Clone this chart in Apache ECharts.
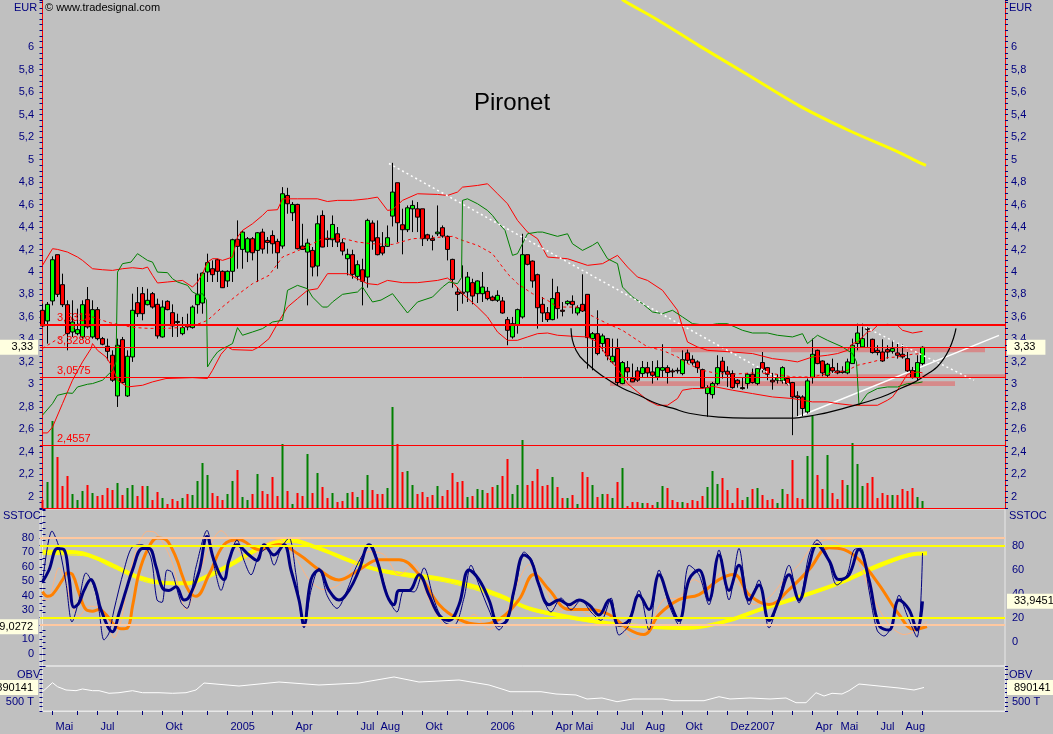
<!DOCTYPE html>
<html><head><meta charset="utf-8">
<script src="https://cdn.jsdelivr.net/npm/echarts/dist/echarts.min.js"></script>
<style>html,body{margin:0;padding:0;background:#c0c0c0}#c{width:1053px;height:734px}</style>
</head><body><div id="c"></div><script>
// ---------------- DATA ----------------
const startDate = '2004-04-19';   // first weekly bar (Monday)
const nSlots = 193;               // weekly slots on the time axis (incl. empty future)
const opens = [3.659,3.564,3.742,4.154,3.887,3.709,3.466,3.451,3.422,3.754,3.422,3.665,3.407,3.339,3.259,2.897,3.398,2.897,3.244,3.727,3.807,3.709,3.807,3.712,3.422,3.739,3.638,3.560,3.451,3.515,3.505,3.709,3.724,4.000,4.029,4.109,4.006,3.920,4.006,4.290,4.201,4.177,4.296,4.192,4.355,4.281,4.325,4.272,4.231,4.681,4.527,4.601,4.231,4.177,4.192,4.053,4.503,4.300,4.287,4.340,4.260,4.118,4.154,3.961,4.020,3.955,4.435,4.305,4.228,4.228,4.497,4.794,4.420,4.376,4.562,4.562,4.562,4.331,4.296,4.340,4.394,4.317,4.112,3.822,3.820,3.822,3.905,3.807,3.807,3.828,3.777,3.748,3.742,3.576,3.422,3.525,3.600,4.154,4.097,3.976,3.712,3.638,3.576,3.816,3.660,3.718,3.739,3.635,3.712,3.801,3.407,3.451,3.363,3.407,3.200,3.318,3.007,3.149,3.052,3.120,3.096,3.149,3.111,3.066,3.125,3.149,3.120,3.125,3.096,3.280,3.223,3.200,3.131,2.918,2.909,3.007,3.206,3.117,3.096,3.037,2.971,3.007,3.090,3.007,3.194,3.149,3.037,3.037,3.031,3.052,3.016,2.897,2.888,2.755,3.060,3.303,3.208,3.081,3.149,3.120,3.117,3.102,3.185,3.363,3.333,3.495,3.401,3.303,3.288,3.309,3.294,3.280,3.268,3.229,3.125,3.060,3.185];
const closes = [3.520,3.712,4.109,3.801,3.709,3.451,3.555,3.487,3.709,3.511,3.665,3.407,3.357,3.294,3.037,3.348,3.016,3.250,3.659,3.629,3.629,3.748,3.688,3.431,3.688,3.665,3.520,3.550,3.505,3.511,3.688,3.798,3.991,4.083,3.976,4.006,3.860,4.006,4.287,4.228,4.355,4.296,4.171,4.349,4.204,4.263,4.251,4.171,4.696,4.607,4.601,4.207,4.201,4.257,4.044,4.429,4.222,4.290,4.423,4.266,4.186,4.157,3.979,4.065,3.917,4.459,4.275,4.154,4.168,4.305,4.711,4.438,4.376,4.571,4.592,4.488,4.296,4.296,4.281,4.355,4.320,4.201,3.934,3.801,3.810,3.955,3.786,3.920,3.866,3.763,3.748,3.792,3.635,3.481,3.540,3.665,4.154,4.068,3.920,3.682,3.635,3.576,3.763,3.674,3.650,3.739,3.709,3.682,3.653,3.416,3.451,3.274,3.431,3.253,3.250,3.016,3.194,3.111,3.022,3.037,3.149,3.102,3.081,3.149,3.149,3.105,3.111,3.120,3.220,3.214,3.191,3.149,2.971,2.971,3.007,3.149,3.111,3.090,2.971,3.007,2.962,3.090,3.016,3.140,3.134,3.090,3.022,3.058,3.149,3.007,2.888,2.882,2.785,3.031,3.268,3.185,3.102,3.179,3.120,3.102,3.105,3.200,3.348,3.457,3.407,3.490,3.283,3.283,3.208,3.288,3.318,3.259,3.244,3.120,3.060,3.194,3.330];
const lows = [3.511,3.362,3.703,3.777,3.688,3.303,3.422,3.437,3.407,3.496,3.407,3.392,3.348,3.214,3.022,2.799,3.007,2.888,3.200,3.600,3.570,3.703,3.674,3.407,3.416,3.659,3.422,3.422,3.437,3.481,3.496,3.629,3.629,3.911,3.911,3.911,3.857,3.866,3.911,4.029,4.029,4.088,4.103,3.911,4.163,4.163,4.163,4.029,4.207,4.518,4.453,4.201,4.200,3.703,3.961,3.961,4.220,4.222,4.222,4.222,4.148,3.970,3.940,3.925,3.703,3.860,4.198,4.148,4.148,4.222,4.405,4.266,4.157,4.355,4.355,4.355,4.231,4.275,4.192,4.320,4.305,4.103,3.860,3.653,3.718,3.733,3.712,3.724,3.733,3.748,3.740,3.733,3.629,3.348,3.407,3.451,3.585,4.059,3.860,3.496,3.555,3.555,3.570,3.585,3.605,3.703,3.629,3.614,3.644,3.140,3.125,3.259,3.294,3.214,3.185,2.992,3.001,3.037,3.020,3.022,3.066,3.066,3.007,3.037,3.066,3.007,3.066,3.096,3.081,3.185,3.170,3.102,2.962,2.711,2.874,2.992,3.052,2.977,2.962,2.971,2.953,2.962,3.007,2.992,3.105,3.037,2.953,3.007,3.007,2.992,2.548,2.717,2.717,2.740,3.007,3.179,3.072,3.066,3.102,3.090,3.096,3.090,3.185,3.303,3.327,3.333,3.274,3.259,3.200,3.229,3.274,3.229,3.229,3.111,3.052,3.037,3.170];
const highs = [3.718,3.733,4.139,4.154,3.985,3.748,3.748,3.674,3.748,3.866,3.748,3.688,3.422,3.407,3.303,3.407,3.422,3.303,3.807,3.866,3.866,3.851,3.822,3.763,3.748,3.748,3.712,3.629,3.600,3.629,3.703,3.985,4.000,4.163,4.103,4.118,4.014,4.014,4.296,4.459,4.370,4.311,4.311,4.355,4.385,4.311,4.370,4.296,4.755,4.749,4.622,4.607,4.429,4.296,4.222,4.503,4.548,4.370,4.503,4.400,4.296,4.207,4.198,4.103,4.118,4.474,4.459,4.459,4.355,4.414,4.971,4.794,4.563,4.592,4.637,4.622,4.562,4.340,4.325,4.592,4.414,4.325,4.118,3.866,4.059,4.000,3.940,3.925,4.000,3.866,3.790,3.837,3.777,3.600,3.600,3.674,4.340,4.154,4.103,3.985,3.777,3.688,3.940,3.872,3.733,3.748,3.792,3.703,3.979,3.801,3.466,3.659,3.451,3.413,3.407,3.407,3.208,3.208,3.185,3.155,3.208,3.200,3.208,3.214,3.357,3.170,3.140,3.149,3.303,3.309,3.259,3.214,3.140,2.992,3.022,3.259,3.244,3.161,3.125,3.046,3.066,3.102,3.140,3.149,3.288,3.155,3.102,3.090,3.161,3.066,3.022,2.939,2.903,3.052,3.407,3.309,3.214,3.191,3.229,3.191,3.161,3.229,3.407,3.540,3.540,3.510,3.407,3.348,3.401,3.348,3.392,3.377,3.357,3.288,3.155,3.259,3.339];
const volumes = [8,26,87,51,22,32,14,8,17,23,15,12,13,20,18,25,13,20,23,12,22,22,8,16,10,4,9,7,10,14,13,27,45,33,15,12,8,14,27,38,11,8,14,34,17,14,31,12,64,17,4,15,12,54,15,35,21,10,15,6,7,15,16,11,18,33,18,14,14,20,101,64,36,37,23,14,16,11,13,22,12,18,35,26,27,11,12,19,18,15,21,23,32,49,14,23,68,23,27,39,22,23,31,21,10,10,13,4,36,31,23,11,14,14,10,26,40,2,6,6,5,5,3,6,22,20,8,6,6,5,8,7,12,21,37,24,30,18,5,20,8,11,19,20,13,8,9,5,19,14,48,10,9,52,92,33,19,53,15,9,28,23,65,44,22,25,31,10,15,13,13,13,19,17,20,11,7];

// overlay indicators: [week index, price]
const bbUpper = [[0,4.059],[2,4.207],[3,4.201],[5,4.177],[7,4.133],[8,4.103],[10,4.029],[12,4.02],[14,4.014],[16,4.029],[18,4.038],[20,4.029],[21,4.044],[22,3.97],[23,3.902],[25,3.911],[27,3.92],[28,3.925],[30,3.866],[31,3.911],[32,3.985],[33,4.088],[34,4.118],[35,4.118],[36,4.103],[38,4.133],[39,4.311],[40,4.37],[42,4.429],[44,4.503],[45,4.548],[47,4.554],[48,4.651],[51,4.651],[55,4.651],[57,4.627],[59,4.637],[62,4.637],[65,4.651],[67,4.666],[69,4.548],[70,4.554],[72,4.637],[75,4.696],[79,4.69],[81,4.681],[83,4.711],[84,4.755],[87,4.77],[89,4.785],[91,4.696],[93,4.607],[95,4.459],[97,4.355],[99,4.296],[101,4.133],[105,4.118],[109,4.059],[112,4.074],[115,4.148],[117,4.044],[119,3.955],[121,3.925],[124,3.837],[127,3.659],[128,3.511],[129,3.377],[131,3.333],[133,3.303],[138,3.288],[142,3.274],[146,3.229],[149,3.214],[151,3.2],[154,3.244],[157,3.259],[159,3.274],[161,3.303],[162,3.363],[163,3.377],[165,3.466],[166,3.481],[167,3.525],[169,3.534],[171,3.525],[172,3.481],[174,3.457],[176,3.472]];
const bbLower = [[0,2.568],[1,2.568],[2,2.62],[4,2.829],[6,3.037],[8,3.2],[9.7,3.318],[10,3.363],[11,3.303],[12.7,3.244],[14,3.155],[15,3.037],[17,2.977],[20,2.992],[22,3.022],[24.7,3.052],[30,3.06],[33,3.052],[34,3.125],[35.7,3.268],[37,3.333],[38,3.309],[42,3.303],[43.3,3.333],[45.3,3.407],[47,3.54],[49,3.688],[51,3.763],[53,3.837],[55,3.851],[57,3.985],[61,3.985],[63,3.94],[65,3.896],[67,3.887],[69,3.925],[72,3.905],[75,3.905],[79,3.925],[81,3.946],[82,3.911],[84,3.807],[87,3.688],[89,3.6],[91,3.466],[93,3.392],[95,3.392],[97,3.422],[99,3.451],[101,3.457],[103,3.437],[106,3.428],[109,3.422],[111,3.377],[113,3.244],[115,3.14],[117,3.007],[119,2.933],[121,2.859],[123,2.814],[125,2.814],[127,2.874],[128,2.948],[130,2.963],[132,2.963],[134,2.983],[138,2.948],[142,2.918],[146,2.888],[150,2.874],[154,2.844],[157,2.844],[159,2.829],[162,2.814],[167,2.814],[169,2.859],[170,2.888],[171,2.948],[172,3.022],[173,3.09],[175,3.111],[176,3.102]];
const bbMid = [[0,3.32],[4.7,3.45],[9.3,3.61],[13.3,3.55],[18,3.507],[21.3,3.498],[24.7,3.498],[28,3.507],[31.3,3.54],[33,3.57],[36,3.69],[39.3,3.807],[42,3.896],[45.3,3.97],[48,4.133],[52,4.207],[56,4.296],[60,4.3],[63,4.266],[66,4.251],[70,4.245],[74,4.296],[78,4.305],[82,4.317],[84,4.281],[87,4.237],[90,4.163],[91,4.103],[93,3.985],[95,3.896],[98,3.807],[101,3.748],[103,3.688],[107,3.688],[109,3.629],[113,3.54],[116,3.481],[119,3.392],[121,3.333],[124,3.303],[127,3.244],[129,3.185],[132,3.125],[135,3.096],[138,3.09],[142,3.102],[146,3.096],[150,3.066],[154,3.066],[157,3.096],[161,3.125],[163,3.17],[166,3.2],[169,3.238],[171,3.244],[174,3.268],[176,3.274]];
const greenStop = [[0,2.726],[2,2.829],[3,2.903],[5,2.924],[6,2.92],[7,2.977],[9,3.001],[10,3.007],[12,3.037],[14,3.125],[14.7,3.2],[15,3.999],[16,4.074],[17.7,4.088],[19,4.163],[20,4.133],[21,4.103],[22,4.088],[23,3.999],[25,3.994],[26,3.94],[27,3.911],[29,3.881],[30,3.822],[31,3.801],[32,3.807],[32.8,3.75],[33,3.155],[34,3.229],[35,3.288],[36,3.318],[37,3.339],[38,3.363],[39,3.505],[40,3.437],[42,3.466],[44,3.496],[46,3.555],[48,3.57],[48.7,3.75],[49,3.837],[51,3.881],[53,3.851],[54,3.777],[56,3.688],[57,3.688],[58,3.733],[60,3.801],[63,3.822],[64,3.866],[66,3.733],[67.7,3.75],[70,3.807],[73,3.635],[75,3.733],[78,3.777],[80,3.866],[81.3,3.911],[83,3.896],[83.8,3.95],[84,4.637],[85,4.651],[87,4.607],[89,4.548],[90,4.503],[91,4.444],[92.5,4.37],[94,4.148],[95,4.163],[97,4.34],[99,4.355],[100,4.355],[103,4.317],[105,4.34],[106,4.251],[108,4.192],[110,4.237],[111,4.266],[113,4.118],[115,4.074],[116,3.866],[118,3.777],[120,3.718],[122,3.644],[124,3.629],[126,3.659],[128,3.6],[130,3.54],[133,3.525],[135,3.54],[137,3.54],[140,3.481],[142,3.457],[145,3.457],[147,3.437],[150,3.422],[152,3.451],[153,3.363],[155,3.437],[157,3.392],[160,3.333],[161,3.303],[162,3.274],[162.8,3.2],[163.3,2.814],[165,2.918],[167,2.963],[169,2.977],[171,2.977],[173,3.007],[175,3.013],[176,3.022]];
const longMA = [[115.5,6.45],[116.3,6.414],[123.3,6.236],[131.3,6.014],[141.3,5.748],[151.3,5.48],[161.3,5.259],[171.3,5.064],[175.3,4.975],[176.7,4.948]];
const levels = [3.5313, 3.3288, 3.0575, 2.4557];
const lastPrice = 3.33;
// drawing objects
const bowl = [[105.7,3.499],[106.7,3.303],[109.3,3.17],[112.7,3.054],[116,2.965],[119.3,2.903],[122.7,2.832],[126,2.788],[129.3,2.743],[135.3,2.708],[141,2.699],[147.7,2.699],[154.3,2.725],[160.9,2.796],[167.7,2.885],[171.7,2.965],[175.7,3.054],[180.3,3.232],[182.7,3.499]];
const trendDownA = [[69.3,4.965],[149.3,3.0]];
const trendDownB = [[163.7,3.526],[186.3,3.037]];
const trendUp = [[150.9,2.707],[191.3,3.436]];
const zoneStart = [125.7, 113.5, 154];
const zoneEnd = [188.5, 182.5, 192.5];
const zoneTop = [3.327, 3.028, 3.09];
const zoneBottom = [3.285, 2.986, 3.061];

// SSTOC panel: [week index, value]
const stochSlow = [[0,50],[1.3,60],[3,78],[4.3,77],[5.3,54],[6.3,29],[7.3,32.5],[8.3,43],[9.7,52],[10.7,43],[11.7,27],[14,8.6],[15.3,24],[16.7,43],[18,60],[20,78],[21.3,78],[22.7,63],[24,45],[25.3,43],[26.7,46],[28.3,35],[29.3,37.5],[31.3,58.6],[32.9,88],[34.3,68],[36.3,52],[37.3,68],[38.9,81],[41.3,72.5],[42.9,68],[44.3,81],[46.3,72.5],[48.3,81],[49.7,60],[51.3,35],[52.3,14],[53.7,52],[55.3,60],[57.3,43],[59.3,35],[61.3,43],[63.3,60],[65.3,81],[66.9,68],[68.9,39],[70.3,31],[71.3,43],[73.3,43],[75.3,56],[77.3,39],[79.3,22.5],[81.3,18],[83.3,31],[85.3,60],[87.3,52],[89.3,35],[91.3,14],[92.9,18],[94.3,43],[96.3,72.5],[97.7,68],[99.3,47.5],[101.3,31],[103.3,35],[105.3,31],[107.3,35],[109.3,31],[111.3,22.5],[113.3,35],[115.3,14],[117.3,18],[119.3,39],[121.3,27],[123.3,56],[125.3,35],[127.3,18],[129.3,52],[131.3,60],[133.3,35],[135.3,72.5],[137.3,43],[139.3,64],[141.3,35],[143.3,47.5],[145.3,18],[147.3,35],[149.3,56],[151.3,35],[153.3,64],[154.9,81],[157.3,68],[159.3,52],[161.3,56],[163.3,77],[165.3,52],[167.3,14],[169.3,10],[171.3,35],[173.3,27],[174.9,10],[176,33.9]];
const stochFast = [[0,49],[1.9,92.5],[3.3,79],[4.7,49],[5.9,16.7],[7.3,35],[8.7,57.5],[10.3,46],[11.3,26.7],[12.3,1.7],[13.3,7.5],[14.3,26.7],[16.3,60],[17.9,79],[19.9,81],[21.7,70],[22.9,35],[23.9,33],[24.9,60],[25.9,58],[27.7,33],[28.9,28],[30.7,62.5],[32.9,93],[34.3,64],[35.7,43],[37.3,68],[38.9,85],[40.3,68],[41.7,56],[43.3,72.5],[44.9,78],[46.3,64],[47.7,78],[49.3,86.7],[50.7,56],[52.3,11.7],[53.7,43],[55.3,61.7],[56.9,39],[58.9,28],[60.9,43],[62.9,64],[65.7,81],[67.3,64],[69.3,35],[70.9,25],[72.3,43],[74.3,41.7],[76.3,61.7],[78.3,35],[80.3,16.7],[82.3,14],[84.3,36.7],[85.7,64],[87.3,47.5],[89.3,26.7],[91.3,10],[93.3,25],[94.9,51.7],[96.3,75],[97.9,68],[99.7,41.7],[101.7,25],[103.7,36.7],[105.7,26.7],[107.7,35],[109.7,25],[111.7,18],[113.7,36.7],[115.3,5.8],[117.3,14],[119.3,43],[121.3,10],[123.3,60],[125.3,31],[127.3,14],[129.3,64],[131.3,56],[133.3,31],[135.3,76.7],[137.3,35],[139.3,78],[141.3,31],[143.3,51.7],[145.3,11.7],[147.3,36.7],[149.3,64],[151.3,32.5],[153.3,72.5],[154.9,85],[156.9,72.5],[158.9,47.5],[160.9,56],[162.3,76.7],[163.7,78],[165.3,43],[166.9,10],[168.3,5],[169.9,14],[171.3,39],[172.9,22.5],[174.9,4],[176,74]];
const stochTrend = [[0,75.3],[4.7,75.3],[8,74],[11.3,69],[14,64],[16.7,58.6],[19.3,54],[22.7,50.3],[26,49],[29.3,49],[31.3,51.7],[37.3,64],[43.3,78],[49.3,85],[55.3,78],[61.3,68],[67.3,60],[73.3,56],[79.3,53],[85.3,47.5],[91.3,39],[97.3,28],[103.3,22.5],[111.3,16.7],[119.3,13.3],[127.3,11.7],[131.3,12.5],[137.3,18],[143.3,26.7],[151.3,37.5],[159.3,49],[167.3,64],[173.3,72.5],[176.9,74]];
const stochTrend2 = [[0,73],[8,72],[14,62],[19.3,52],[22.7,48.5],[26,48],[31.3,50.5],[37.3,62],[43.3,76],[49.3,83],[55.3,77],[61.3,67],[67.3,59],[73.3,54],[79.3,51],[85.3,45],[91.3,37],[97.3,27],[103.3,21],[111.3,15.5],[119.3,12.3],[127.3,11],[131.3,12],[137.3,17.5],[143.3,26],[151.3,36.5],[159.3,48],[167.3,62],[173.3,71.5],[176.9,73.5]];
const stoch2 = [[0,43],[1,39.7],[2,41],[4,51],[5,56],[6,54.7],[7.3,42],[8.7,30.5],[10,29.4],[11.3,30.5],[12.7,27],[14.3,20.2],[15.7,17.2],[17,17.9],[18,32.8],[19.3,55.8],[21,71.9],[23,80],[24.7,78.8],[26,71.9],[27,63.9],[28,53.5],[29.3,43.2],[30.7,39.7],[33.3,54.7],[36.3,75.4],[39.3,78.8],[43.3,71.9],[47.3,75.4],[51.3,68.5],[55.3,58],[59.3,51],[63.3,58],[67.3,65],[71.3,65],[75.3,54.7],[79.3,34],[83.3,23.7],[87.3,20.2],[91.3,23.7],[95.3,37.4],[98.3,54.7],[101.3,44.3],[105.3,30.6],[109.3,30.6],[113.3,27.1],[117.3,16.8],[120.3,13.3],[123.3,27.1],[127.3,37.4],[131.3,40.9],[135.3,51.2],[138.3,54.7],[141.3,40.9],[145.3,34],[149.3,44.3],[153.3,58.1],[157.3,73.3],[160.3,71.9],[163.3,65],[167.3,47.8],[171.3,27.1],[174.3,16.8],[176.9,18.8]];
const stoch2Fast = [[0,37.4],[1,37.4],[3.3,59.3],[4.7,49],[5.7,35],[7.3,26],[9.3,32.8],[11.3,32.4],[13.3,19],[14.3,11],[15.7,22.5],[17.3,53.5],[19.3,76.6],[21,84.6],[22.7,83.4],[25,70.8],[26.3,59.3],[27.7,38.6],[28.7,30.5],[30,39.7],[31.3,54.7],[33.3,73.3],[35.7,85],[38.3,75.4],[41.3,65],[44.3,75.4],[47.3,78.8],[50.3,68.5],[53.3,51.2],[56.3,44.3],[59.3,47.8],[62.3,61.6],[65.3,70.6],[68.3,68.5],[71.3,54.7],[74.3,61.6],[77.3,37.4],[80.3,20.2],[83.3,18.1],[86.3,27.1],[89.3,16.8],[92.3,25],[95.3,51.2],[97.3,61.6],[100.3,47.8],[103.3,29.2],[106.3,34],[109.3,27.1],[112.3,29.2],[115.3,20.2],[118.3,9.9],[121.3,18.1],[124.3,37.4],[127.3,38.8],[130.3,51.2],[133.3,45.7],[136.3,58.1],[139.3,47.8],[142.3,34],[145.3,38.8],[148.3,51.2],[151.3,61.6],[154.3,75.4],[157.3,78.8],[160.3,73.3],[163.3,61.6],[166.3,37.4],[169.3,20.2],[172.3,13.3],[175.3,16.8],[176.9,22.3]];
const stochBands = [80, 20];
const stochLast = 33.9451;
const stoch2Last = 29.0272;
const stoch2TagLevel = 18.6;

// OBV panel: [week index, OBV]
const obv = [[0,775000],[2,1020000],[3,911000],[4.7,822000],[6.7,803000],[8,849000],[10,803000],[11.3,803000],[13.3,732000],[15.3,748000],[18,803000],[20,748000],[23.3,748000],[26,732000],[28.7,748000],[30.7,822000],[32.3,1012000],[39.3,930000],[47.3,1039000],[55.3,958000],[63.3,1012000],[70.3,1176000],[75.3,1039000],[83.3,1094000],[89.3,958000],[92.5,822000],[93.5,775000],[99.7,775000],[102.7,713000],[106.7,686000],[108.9,577000],[111.9,604000],[114.9,503000],[118.1,577000],[124.1,577000],[126.1,530000],[132.3,530000],[135.3,639000],[137.5,577000],[141.5,604000],[145.5,577000],[148.7,604000],[150.7,476000],[152.7,476000],[154.7,748000],[156.3,658000],[157.9,732000],[159.9,713000],[161.3,803000],[163.3,985000],[167.3,930000],[171.3,876000],[174.3,822000],[176.3,890141]];
const obvLast = 890141;

// x-axis month labels
const labelMonths = ['2004-05','2004-07','2004-10','2005-01','2005-04','2005-07','2005-08','2005-10','2006-01','2006-04','2006-05','2006-07','2006-08','2006-10','2006-12','2007-01','2007-04','2007-05','2007-07','2007-08'];
const labelTexts  = ['Mai','Jul','Okt','2005','Apr','Jul','Aug','Okt','2006','Apr','Mai','Jul','Aug','Okt','Dez','2007','Apr','Mai','Jul','Aug'];

// ---------------- BUILD ----------------
const FONT = "'Liberation Sans',Arial,sans-serif";
const NAVY = '#00007f';
const RED = '#ff0000';
const GREEN = '#008000';
const LIME = '#00ff00';
const NOLINE = { color: 'rgba(0,0,0,0)', width: 1 };

const dates = [];
{
  const t0 = Date.parse(startDate + 'T00:00:00Z');
  for (let i = 0; i < nSlots; i++) dates.push(new Date(t0 + i * 7 * 86400000).toISOString().slice(0, 10));
}
const nBars = closes.length;
const isMonthStart = (d, i) => i < nBars && +d.slice(8, 10) <= 7;
const labelFor = (d) => { const idx = labelMonths.indexOf(d.slice(0, 7)); return (+d.slice(8, 10) <= 7 && idx >= 0) ? labelTexts[idx] : ''; };
const comma = (v, d) => v.toFixed(d).replace('.', ',');

const candleData = opens.map((o, i) => [o, closes[i], lows[i], highs[i]]);
const volData = volumes.map((v, i) => ({ value: v, itemStyle: { color: closes[i] >= opens[i] ? GREEN : RED } }));

const txt = (text, left, top, size, color) => ({ text, left, top, padding: 0, textStyle: { fontFamily: FONT, fontSize: size, fontWeight: 'normal', color } });
const tag = (pos, text) => ({ show: true, position: pos, formatter: text, backgroundColor: '#ffffe0', color: '#000', fontFamily: FONT, fontSize: 11, padding: pos === 'start' ? [2, 5, 2, 16] : [2, 10, 2, 7], distance: 2 });
const hidden = { show: false };
const ovX = (gi) => ({ type: 'value', gridIndex: gi, min: -0.5, max: nSlots - 0.5, show: false });
const axLab = (fmt, margin) => ({ color: NAVY, fontFamily: FONT, fontSize: 11, margin, formatter: fmt });
const line = (name, xi, yi, data, color, width, extra) => Object.assign({ type: 'line', name, xAxisIndex: xi, yAxisIndex: yi, data, symbol: 'none', silent: true, lineStyle: { color, width } }, extra || {});

const priceFmt = (v) => { const t = Math.round(v * 100); return (t % 20 === 0 && t >= 200 && t <= 600) ? String(t / 100).replace('.', ',') : ''; };
const priceAxis = (pos) => ({
  type: 'value', gridIndex: 0, position: pos, min: 1.9, max: 6.42, interval: 0.05,
  axisLine: { show: true, lineStyle: { color: RED, width: 1 } },
  axisTick: { show: true, length: 3, lineStyle: { color: NAVY } },
  axisLabel: axLab(priceFmt, 6), splitLine: hidden
});

const option = {
  backgroundColor: '#c0c0c0',
  animation: false,
  title: [
    txt('Pironet', 474, 91, 24, '#000'),
    txt('© www.tradesignal.com', 45, 2, 11, '#000'),
    txt('EUR', 14, 2, 11, NAVY), txt('EUR', 1009, 2, 11, NAVY),
    txt('SSTOC', 3, 510, 11, NAVY), txt('SSTOC', 1009, 510, 11, NAVY),
    txt('OBV', 17, 669, 11, NAVY), txt('OBV', 1009, 669, 11, NAVY)
  ],
  grid: [
    { left: 40, width: 965, top: 0, height: 508 },
    { left: 40, width: 965, top: 509, height: 157, show: true, backgroundColor: 'transparent', borderColor: '#e8e8e8', borderWidth: 1 },
    { left: 40, width: 965, top: 509, height: 152 },
    { left: 40, width: 965, top: 666, height: 45, show: true, backgroundColor: 'transparent', borderColor: '#e8e8e8', borderWidth: 1 }
  ],
  xAxis: [
    { type: 'category', gridIndex: 0, data: dates, boundaryGap: true,
      axisLine: { show: true, onZero: false, lineStyle: { color: RED } }, axisTick: hidden, axisLabel: hidden, splitLine: hidden },
    ovX(0), ovX(1), ovX(2),
    { type: 'category', gridIndex: 3, data: dates, boundaryGap: true,
      axisLine: { show: true, onZero: false, lineStyle: { color: '#e8e8e8' } },
      axisTick: { show: true, alignWithLabel: true, length: 4, interval: (i, d) => isMonthStart(d, i), lineStyle: { color: NAVY } },
      axisLabel: { show: true, interval: (i, d) => labelFor(d) !== '', formatter: (d) => labelFor(d), color: NAVY, fontFamily: FONT, fontSize: 11, margin: 10, align: 'left', padding: [0, 0, 0, 3] },
      splitLine: hidden },
    ovX(3)
  ],
  yAxis: [
    priceAxis('left'), priceAxis('right'),
    { type: 'value', gridIndex: 0, min: 0, max: 508, show: false },
    { type: 'value', gridIndex: 1, position: 'right', min: -20, max: 110.83, interval: 5,
      axisLine: { show: true, lineStyle: { color: '#e8e8e8' } }, axisTick: { show: true, length: 3, lineStyle: { color: NAVY } },
      axisLabel: axLab((v) => { const r = Math.round(v); return (r % 20 === 0 && r >= 0 && r <= 80) ? String(r) : ''; }, 7), splitLine: hidden },
    { type: 'value', gridIndex: 2, position: 'left', min: -5, max: 100, interval: 5,
      axisLine: { show: false }, axisTick: { show: true, length: 3, lineStyle: { color: NAVY } },
      axisLabel: axLab((v) => { const r = Math.round(v); return (r % 10 === 0 && r >= 0 && r <= 80) ? String(r) : ''; }, 6), splitLine: hidden },
    { type: 'value', gridIndex: 3, position: 'left', min: 250000, max: 1475000, interval: 125000,
      axisLine: { show: true, lineStyle: { color: '#e8e8e8' } }, axisTick: { show: true, length: 3, lineStyle: { color: NAVY } },
      axisLabel: axLab((v) => v === 500000 ? '500 T' : '', 6), splitLine: hidden },
    { type: 'value', gridIndex: 3, position: 'right', min: 250000, max: 1475000, interval: 125000,
      axisLine: { show: true, lineStyle: { color: '#e8e8e8' } }, axisTick: { show: true, length: 3, lineStyle: { color: NAVY } },
      axisLabel: axLab((v) => v === 500000 ? '500 T' : '', 7), splitLine: hidden }
  ],
  series: [
    { type: 'bar', name: 'Volume', xAxisIndex: 0, yAxisIndex: 2, data: volData, barWidth: 2, silent: true },
    line('Trend up', 1, 0, trendUp, '#ffffff', 1.5, { z: 1,
      markArea: { silent: true, itemStyle: { color: 'rgba(222,120,120,0.75)' },
        data: zoneStart.map((s, i) => [{ xAxis: s, yAxis: zoneTop[i] }, { xAxis: zoneEnd[i], yAxis: zoneBottom[i] }]) } }),
    line('BB upper', 1, 0, bbUpper, RED, 1),
    line('BB lower', 1, 0, bbLower, RED, 1),
    line('BB mid', 1, 0, bbMid, RED, 1, { lineStyle: { color: RED, width: 1, type: [3, 3] } }),
    line('Stop', 1, 0, greenStop, GREEN, 1),
    { type: 'candlestick', name: 'Pironet', xAxisIndex: 0, yAxisIndex: 0, data: candleData, barWidth: 4, silent: true,
      itemStyle: { color: LIME, color0: RED, borderColor: '#000', borderColor0: '#000', borderWidth: 1 },
      markLine: { silent: true, symbol: 'none', animation: false,
        data: levels.map((lv) => ({ yAxis: lv, lineStyle: { color: RED, width: lv === levels[0] ? 2 : 1, type: 'solid' },
          label: { show: true, position: 'insideStartTop', formatter: comma(lv, 4), color: RED, fontFamily: FONT, fontSize: 11, distance: 1, padding: [0, 0, 0, 16] } }))
          .concat([
            { yAxis: lastPrice, lineStyle: NOLINE, label: tag('start', comma(lastPrice, 2)) },
            { yAxis: lastPrice, lineStyle: NOLINE, label: tag('end', comma(lastPrice, 2)) }
          ]) } },
    line('Bowl', 1, 0, bowl, '#000', 1.2, { smooth: 0.5 }),
    line('Trend A', 1, 0, trendDownA, '#fff', 1.5, { lineStyle: { color: '#fff', width: 1.5, type: [2, 3] } }),
    line('Trend B', 1, 0, trendDownB, '#fff', 1.5, { lineStyle: { color: '#fff', width: 1.5, type: [2, 3] } }),
    line('MA long', 1, 0, longMA, '#ffff00', 3, { smooth: 0.3 }),
    // SSTOC
    line('SSTOC trend', 2, 3, stochTrend, '#ffff00', 4, { smooth: 0.4,
      markLine: { silent: true, symbol: 'none', animation: false, label: { show: false },
        data: stochBands.map((b) => ({ yAxis: b, lineStyle: { color: '#ffff00', width: 2, type: 'solid' } })) } }),
    line('SSTOC trend 2', 2, 3, stochTrend2, '#ffff00', 1, { smooth: 0.4 }),
    line('SSTOC 2 fast', 3, 4, stoch2Fast, '#ffb482', 1, { smooth: 0.3 }),
    line('SSTOC 2', 3, 4, stoch2, '#ff8000', 3, { smooth: 0.4,
      markLine: { silent: true, symbol: 'none', animation: false,
        data: stochBands.map((b) => ({ yAxis: b, lineStyle: { color: '#ffc8a0', width: 2, type: 'solid' }, label: { show: false } }))
          .concat([{ yAxis: stoch2TagLevel, lineStyle: NOLINE, label: tag('start', comma(stoch2Last, 4)) }]) } }),
    line('SSTOC fast', 2, 3, stochFast, '#000080', 1, { smooth: 0.3 }),
    line('SSTOC', 2, 3, stochSlow, '#000080', 3, { smooth: 0.4,
      markLine: { silent: true, symbol: 'none', animation: false,
        data: [{ yAxis: stochLast, lineStyle: NOLINE, label: tag('end', comma(stochLast, 4)) }] } }),
    // OBV
    line('OBV', 5, 5, obv, '#ffffff', 1, {
      markLine: { silent: true, symbol: 'none', animation: false,
        data: [{ yAxis: obvLast, lineStyle: NOLINE, label: tag('start', String(obvLast)) },
               { yAxis: obvLast, lineStyle: NOLINE, label: tag('end', String(obvLast)) }] } })
  ]
};
const chart = echarts.init(document.getElementById('c'));
chart.setOption(option);
</script></body></html>
